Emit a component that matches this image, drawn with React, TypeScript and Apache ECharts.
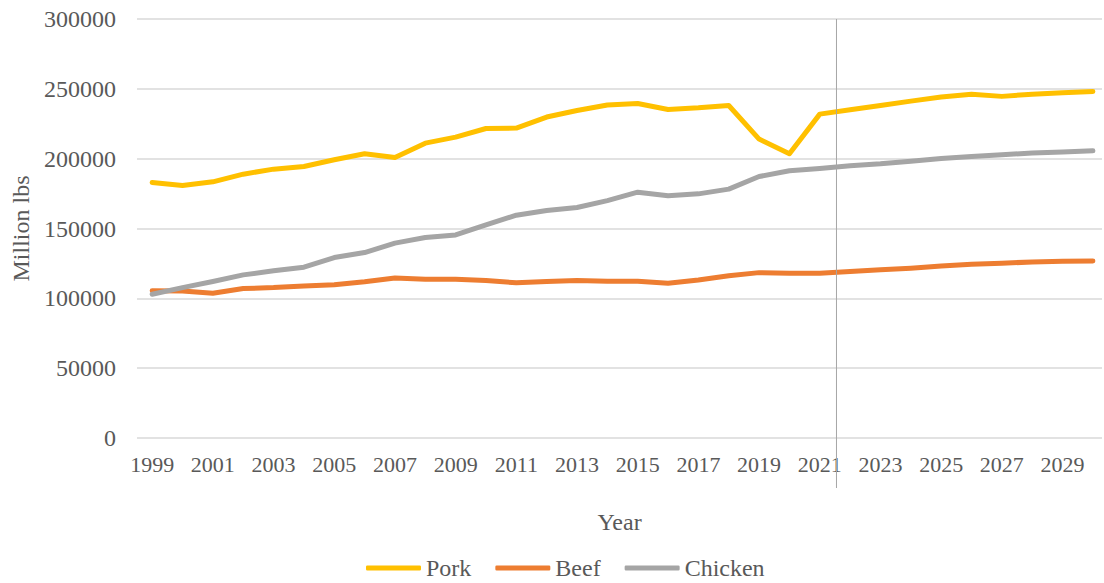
import React, { useEffect, useRef } from "react";
import * as echarts from "echarts";

const years = [1999, 2000, 2001, 2002, 2003, 2004, 2005, 2006, 2007, 2008, 2009, 2010, 2011, 2012, 2013, 2014, 2015, 2016, 2017, 2018, 2019, 2020, 2021, 2022, 2023, 2024, 2025, 2026, 2027, 2028, 2029, 2030];
const pork = [182900, 180800, 183400, 188900, 192500, 194400, 199200, 203500, 200800, 211100, 215400, 221600, 221900, 229800, 234500, 238400, 239500, 235200, 236400, 238100, 214000, 203500, 231900, 235000, 238100, 241200, 244100, 246200, 244600, 246200, 247200, 248100];
const beef = [105500, 105300, 103700, 107000, 107700, 108900, 109800, 111800, 114600, 113700, 113700, 112700, 111100, 112000, 112700, 112300, 112300, 110800, 113200, 116100, 118400, 118000, 118000, 119200, 120400, 121600, 123200, 124400, 125100, 126100, 126600, 126800];
const chicken = [102900, 107700, 112000, 116800, 119700, 122300, 129200, 132800, 139500, 143500, 145400, 152600, 159500, 162900, 165000, 170000, 176000, 173400, 174800, 178200, 187200, 191300, 193000, 194900, 196300, 198200, 200100, 201600, 202800, 204000, 204700, 205600];
const xTickLabels = [1999, 2001, 2003, 2005, 2007, 2009, 2011, 2013, 2015, 2017, 2019, 2021, 2023, 2025, 2027, 2029];
const dividerYear = 2021.55;

const FONT = "'Liberation Serif', 'Times New Roman', serif";
const TEXT = "#595959";

export default function App() {
  const ref = useRef<HTMLDivElement>(null);
  useEffect(() => {
    const chart = echarts.init(ref.current!, undefined, { renderer: "svg" });
    const mk = (name: string, vals: number[], color: string) => ({
      name,
      type: "line",
      data: years.map((y, i) => [y, vals[i]]),
      showSymbol: false,
      symbol: "none",
      lineStyle: { color, width: 5, cap: "round", join: "round" },
      itemStyle: { color },
    });
    chart.setOption({
      animation: false,
      textStyle: { fontFamily: FONT },
      grid: { left: 137, right: 2, top: 19, bottom: 145 },
      xAxis: {
        type: "value",
        min: 1998.5,
        max: 2030.3,
        name: "Year",
        nameLocation: "middle",
        nameGap: 72,
        nameTextStyle: { fontFamily: FONT, fontSize: 24, color: TEXT },
        axisLine: { show: false },
        axisTick: { show: false },
        splitLine: { show: false },
        axisLabel: {
          customValues: xTickLabels,
          fontFamily: FONT,
          fontSize: 22,
          color: TEXT,
          margin: 15,
          formatter: (v: number) => String(v),
        },
      },
      yAxis: {
        type: "value",
        min: 0,
        max: 300000,
        interval: 50000,
        name: "Million lbs",
        nameLocation: "middle",
        nameRotate: 90,
        nameGap: 101,
        nameTextStyle: { fontFamily: FONT, fontSize: 24, color: TEXT },
        axisLine: { show: false },
        axisTick: { show: false },
        axisLabel: { fontFamily: FONT, fontSize: 24, color: TEXT, margin: 21, formatter: (v: number) => String(v) },
        splitLine: { lineStyle: { color: "#D9D9D9", width: 1.5 } },
      },
      legend: {
        left: 366,
        top: 556,
        icon: "roundRect",
        itemWidth: 55,
        itemHeight: 5,
        itemGap: 24,
        padding: 0,
        textStyle: { fontFamily: FONT, fontSize: 24, lineHeight: 24, color: TEXT },
        data: ["Pork", "Beef", "Chicken"],
      },
      series: [mk("Pork", pork, "#FFC000"), mk("Beef", beef, "#ED7D31"), mk("Chicken", chicken, "#A5A5A5")],
    });
    const px = chart.convertToPixel({ xAxisIndex: 0 }, dividerYear) as number;
    chart.setOption({
      graphic: [
        {
          type: "line",
          shape: { x1: px, y1: 19, x2: px, y2: 488 },
          style: { stroke: "#A6A6A6", lineWidth: 1 },
          z: 10,
        },
      ],
    });
    return () => chart.dispose();
  }, []);
  return <div ref={ref} style={{ position: "absolute", left: 0, top: 0, width: 1104, height: 583 }} />;
}
